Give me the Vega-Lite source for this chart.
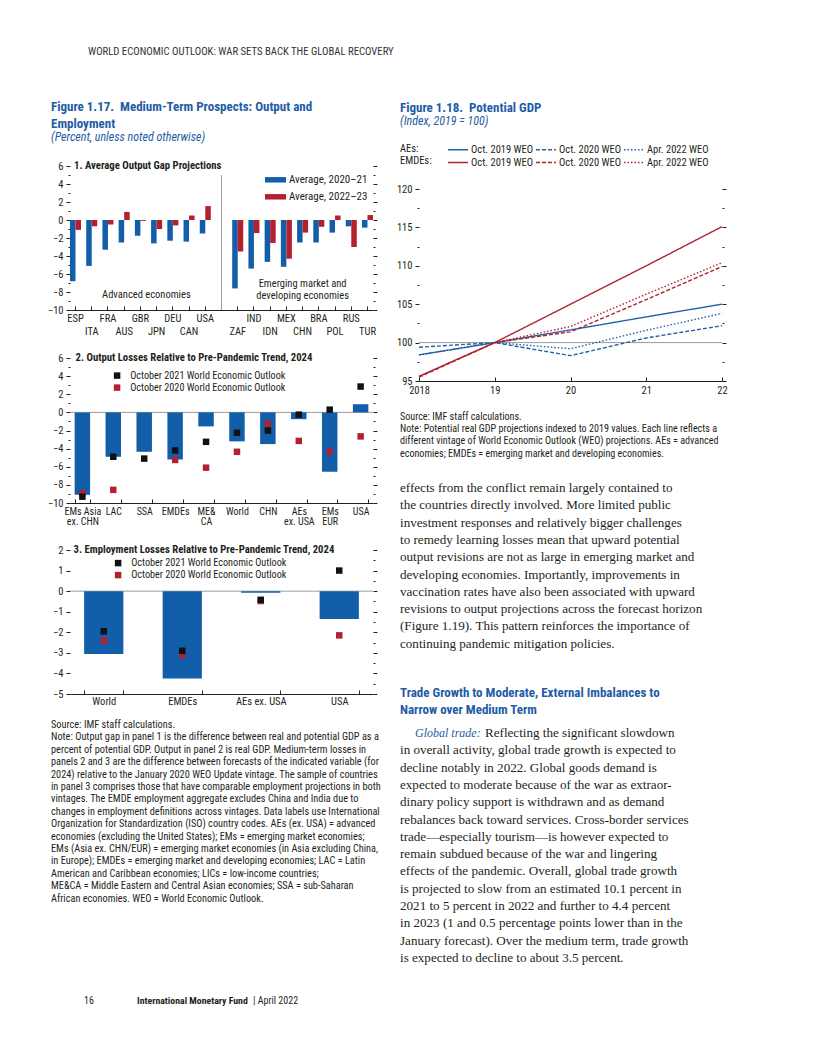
{
"$schema":"https://vega.github.io/schema/vega-lite/v6.json",
"padding":0,
"background":"white",
"config":{"view":{"stroke":null},"axis":{"labelFont":"'Liberation Sans Narrow', 'Roboto Condensed', 'DejaVu Sans Condensed', 'Arial Narrow', sans-serif","labelFontSize":10.5,"labelColor":"#231f20","tickColor":"#231f20","domainColor":"#231f20","grid":false,"labelFlush":false},"legend":{"labelFont":"'Liberation Sans Narrow', 'Roboto Condensed', 'DejaVu Sans Condensed', 'Arial Narrow', sans-serif","labelFontSize":10.5,"labelColor":"#231f20"}},
"columns":6,"align":"each","bounds":"flush","spacing":0,
"resolve":{"scale":{"color":"independent","strokeDash":"independent"},"legend":{"color":"independent","strokeDash":"independent"}},
"concat":[
{"width":51,"height":52,"data":{"values":[]},"mark":"point","encoding":{}},
{"width":19,"height":1,"data":{"values":[]},"mark":"point","encoding":{}},
{"width":303,"height":1,"data":{"values":[]},"mark":"point","encoding":{}},
{"width":27,"height":1,"data":{"values":[]},"mark":"point","encoding":{}},
{"width":19,"height":1,"data":{"values":[]},"mark":"point","encoding":{}},
{"width":303,"height":1,"data":{"values":[]},"mark":"point","encoding":{}},

{"width":51,"height":55,"data":{"values":[]},"mark":"point","encoding":{}},
{"width":19,"height":1,"data":{"values":[]},"mark":"point","encoding":{}},
{"width":303,"height":1,"data":{"values":[{"i":0,"t":"WORLD ECONOMIC OUTLOOK: WAR SETS BACK THE GLOBAL RECOVERY"}]},"mark":{"type":"text","align":"left","baseline":"middle","font":"'Liberation Sans Narrow', 'Roboto Condensed', 'DejaVu Sans Condensed', 'Arial Narrow', sans-serif","fontSize":10.7,"color":"#333333","dx":18},"encoding":{"x":{"datum":0,"type":"quantitative","scale":{"domain":[0,1]},"axis":null},"y":{"field":"i","type":"quantitative","scale":{"domain":[0,0.1],"reverse":true,"nice":false,"zero":false},"axis":null},"text":{"field":"t"}}},
{"width":27,"height":1,"data":{"values":[]},"mark":"point","encoding":{}},
{"width":19,"height":1,"data":{"values":[]},"mark":"point","encoding":{}},
{"width":303,"height":1,"data":{"values":[]},"mark":"point","encoding":{}},

{"width":51,"height":14,"data":{"values":[]},"mark":"point","encoding":{}},
{"width":19,"height":1,"data":{"values":[{"i":0,"t":"Figure 1.17.\u00a0 Medium-Term Prospects: Output and"},{"i":1,"t":"Employment"}]},"mark":{"type":"text","align":"left","baseline":"middle","font":"'Liberation Sans Narrow', 'Roboto Condensed', 'DejaVu Sans Condensed', 'Arial Narrow', sans-serif","fontSize":13,"fontWeight":"bold","color":"#1f5ca5"},"encoding":{"x":{"datum":0,"type":"quantitative","scale":{"domain":[0,1]},"axis":null},"y":{"field":"i","type":"quantitative","scale":{"domain":[0,0.060241],"reverse":true,"nice":false,"zero":false},"axis":null},"text":{"field":"t"}}},
{"width":303,"height":1,"data":{"values":[]},"mark":"point","encoding":{}},
{"width":27,"height":1,"data":{"values":[]},"mark":"point","encoding":{}},
{"width":19,"height":1,"data":{"values":[{"i":0,"t":"Figure 1.18.\u00a0 Potential GDP"}]},"mark":{"type":"text","align":"left","baseline":"middle","font":"'Liberation Sans Narrow', 'Roboto Condensed', 'DejaVu Sans Condensed', 'Arial Narrow', sans-serif","fontSize":13,"fontWeight":"bold","color":"#1f5ca5"},"encoding":{"x":{"datum":0,"type":"quantitative","scale":{"domain":[0,1]},"axis":null},"y":{"field":"i","type":"quantitative","scale":{"domain":[-0.07,0.03],"reverse":true,"nice":false,"zero":false},"axis":null},"text":{"field":"t"}}},
{"width":303,"height":1,"data":{"values":[]},"mark":"point","encoding":{}},

{"width":51,"height":16,"data":{"values":[]},"mark":"point","encoding":{}},
{"width":19,"height":1,"data":{"values":[]},"mark":"point","encoding":{}},
{"width":303,"height":1,"data":{"values":[]},"mark":"point","encoding":{}},
{"width":27,"height":1,"data":{"values":[]},"mark":"point","encoding":{}},
{"width":19,"height":1,"data":{"values":[{"i":0,"t":"(Index, 2019 = 100)"}]},"mark":{"type":"text","align":"left","baseline":"middle","font":"'Liberation Sans Narrow', 'Roboto Condensed', 'DejaVu Sans Condensed', 'Arial Narrow', sans-serif","fontSize":12,"fontStyle":"italic","color":"#1f5ca5"},"encoding":{"x":{"datum":0,"type":"quantitative","scale":{"domain":[0,1]},"axis":null},"y":{"field":"i","type":"quantitative","scale":{"domain":[0,0.1],"reverse":true,"nice":false,"zero":false},"axis":null},"text":{"field":"t"}}},
{"width":303,"height":1,"data":{"values":[]},"mark":"point","encoding":{}},

{"width":51,"height":12,"data":{"values":[]},"mark":"point","encoding":{}},
{"width":19,"height":1,"data":{"values":[{"i":0,"t":"(Percent, unless noted otherwise)"}]},"mark":{"type":"text","align":"left","baseline":"middle","font":"'Liberation Sans Narrow', 'Roboto Condensed', 'DejaVu Sans Condensed', 'Arial Narrow', sans-serif","fontSize":12,"fontStyle":"italic","color":"#1f5ca5"},"encoding":{"x":{"datum":0,"type":"quantitative","scale":{"domain":[0,1]},"axis":null},"y":{"field":"i","type":"quantitative","scale":{"domain":[0,0.1],"reverse":true,"nice":false,"zero":false},"axis":null},"text":{"field":"t"}}},
{"width":303,"height":1,"data":{"values":[]},"mark":"point","encoding":{}},
{"width":27,"height":1,"data":{"values":[]},"mark":"point","encoding":{}},
{"width":19,"height":1,"data":{"values":[]},"mark":"point","encoding":{}},
{"width":303,"height":1,"data":{"values":[]},"mark":"point","encoding":{}},

{"width":51,"height":17,"data":{"values":[]},"mark":"point","encoding":{}},
{"width":19,"height":1,"data":{"values":[]},"mark":"point","encoding":{}},
{"width":303,"height":1,"data":{"values":[]},"mark":"point","encoding":{}},
{"width":27,"height":1,"data":{"values":[]},"mark":"point","encoding":{}},
{"width":19,"height":1,"data":{"values":[{"i":0,"t":"AEs:"},{"i":1,"t":"EMDEs:"}]},"mark":{"type":"text","align":"left","baseline":"middle","font":"'Liberation Sans Narrow', 'Roboto Condensed', 'DejaVu Sans Condensed', 'Arial Narrow', sans-serif","fontSize":10.5,"color":"#231f20"},"encoding":{"x":{"datum":0,"type":"quantitative","scale":{"domain":[0,1]},"axis":null},"y":{"field":"i","type":"quantitative","scale":{"domain":[0,0.083333],"reverse":true,"nice":false,"zero":false},"axis":null},"text":{"field":"t"}}},
{"width":303,"height":1,"data":{"values":[]},"mark":"point","encoding":{}},

{"width":51,"height":192,"data":{"values":[]},"mark":"point","encoding":{}},
{"width":19,"height":1,"data":{"values":[{"i":0,"t":"1. Average Output Gap Projections"}]},"mark":{"type":"text","align":"left","baseline":"middle","font":"'Liberation Sans Narrow', 'Roboto Condensed', 'DejaVu Sans Condensed', 'Arial Narrow', sans-serif","fontSize":10.7,"fontWeight":"bold","color":"#231f20","dx":23},"encoding":{"x":{"datum":0,"type":"quantitative","scale":{"domain":[0,1]},"axis":null},"y":{"field":"i","type":"quantitative","scale":{"domain":[0,0.1],"reverse":true,"nice":false,"zero":false},"axis":null},"text":{"field":"t"}}},
{"width":303,"height":144,
 "layer":[
  {"data":{"values":[
   {"c":"ESP","s":"Average, 2020–21","v":-6.8},{"c":"ESP","s":"Average, 2022–23","v":-1.1},
   {"c":"ITA","s":"Average, 2020–21","v":-5.1},{"c":"ITA","s":"Average, 2022–23","v":-0.7},
   {"c":"FRA","s":"Average, 2020–21","v":-3.3},{"c":"FRA","s":"Average, 2022–23","v":-0.5},
   {"c":"AUS","s":"Average, 2020–21","v":-2.5},{"c":"AUS","s":"Average, 2022–23","v":0.9},
   {"c":"GBR","s":"Average, 2020–21","v":-1.75},{"c":"GBR","s":"Average, 2022–23","v":-0.1},
   {"c":"JPN","s":"Average, 2020–21","v":-2.6},{"c":"JPN","s":"Average, 2022–23","v":-1.0},
   {"c":"DEU","s":"Average, 2020–21","v":-2.3},{"c":"DEU","s":"Average, 2022–23","v":-0.6},
   {"c":"CAN","s":"Average, 2020–21","v":-2.4},{"c":"CAN","s":"Average, 2022–23","v":0.5},
   {"c":"USA","s":"Average, 2020–21","v":-1.5},{"c":"USA","s":"Average, 2022–23","v":1.55},
   {"c":"ZAF","s":"Average, 2020–21","v":-7.6},{"c":"ZAF","s":"Average, 2022–23","v":-3.5},
   {"c":"IND","s":"Average, 2020–21","v":-5.4},{"c":"IND","s":"Average, 2022–23","v":-1.45},
   {"c":"IDN","s":"Average, 2020–21","v":-4.65},{"c":"IDN","s":"Average, 2022–23","v":-2.55},
   {"c":"MEX","s":"Average, 2020–21","v":-5.2},{"c":"MEX","s":"Average, 2022–23","v":-4.3},
   {"c":"CHN","s":"Average, 2020–21","v":-2.5},{"c":"CHN","s":"Average, 2022–23","v":-1.4},
   {"c":"BRA","s":"Average, 2020–21","v":-2.5},{"c":"BRA","s":"Average, 2022–23","v":-0.75},
   {"c":"POL","s":"Average, 2020–21","v":-1.4},{"c":"POL","s":"Average, 2022–23","v":0.5},
   {"c":"RUS","s":"Average, 2020–21","v":-0.7},{"c":"RUS","s":"Average, 2022–23","v":-3.0},
   {"c":"TUR","s":"Average, 2020–21","v":-0.85},{"c":"TUR","s":"Average, 2022–23","v":0.55}
  ]},
  "mark":{"type":"bar"},
  "encoding":{
   "x":{"field":"c","type":"nominal","sort":null,"scale":{"domain":["ESP","ITA","FRA","AUS","GBR","JPN","DEU","CAN","USA"," ","ZAF","IND","IDN","MEX","CHN","BRA","POL","RUS","TUR"],"paddingInner":0.32,"paddingOuter":0},"axis":{"orient":"bottom","domain":true,"ticks":true,"tickSize":-4,"labelPadding":{"condition":{"test":"indexof(['ITA','AUS','JPN','CAN','ZAF','IDN','CHN','POL','TUR'], datum.value) >= 0","value":20},"value":7},"labelAngle":0,"labelBaseline":"top","labelAlign":"center","labelOverlap":false,"title":null}},
   "xOffset":{"field":"s","type":"nominal","sort":null,"scale":{"domain":["Average, 2020–21","Average, 2022–23"]}},
   "y":{"field":"v","type":"quantitative","scale":{"domain":[-10,6],"nice":false},"axis":{"orient":"left","values":[-10,-9,-8,-7,-6,-5,-4,-3,-2,-1,0,1,2,3,4,5,6],"labelExpr":"datum.value % 2 === 0 ? datum.label : ''","tickSize":{"condition":{"test":"datum.value % 2 !== 0","value":2},"value":4},"domain":false,"labelPadding":3,"title":null}},
   "color":{"field":"s","type":"nominal","scale":{"domain":["Average, 2020–21","Average, 2022–23"],"range":["#135ea9","#b5202e"]},"legend":{"orient":"none","legendX":194,"legendY":2.3,"title":null,"symbolType":"M-1,-0.26H1V0.26H-1Z","symbolSize":441,"labelFontSize":11,"labelOffset":2,"rowPadding":-2,"padding":0}}
  }},
  {"data":{"values":[{}]},"mark":{"type":"rule","color":"#9a9a9a","strokeWidth":1},"encoding":{"x":{"datum":" ","type":"nominal"},"y":{"datum":-10,"type":"quantitative","axis":{"orient":"right","values":[-10,-9,-8,-7,-6,-5,-4,-3,-2,-1,0,1,2,3,4,5,6],"labels":false,"domain":false,"tickSize":{"condition":{"test":"datum.value % 2 !== 0","value":2},"value":4},"title":null}},"y2":{"datum":5}}},
  {"data":{"values":[{"t":"Advanced economies"}]},"mark":{"type":"text","font":"'Liberation Sans Narrow', 'Roboto Condensed', 'DejaVu Sans Condensed', 'Arial Narrow', sans-serif","fontSize":10.5,"color":"#231f20","align":"center","baseline":"middle","dx":6},"encoding":{"x":{"datum":"GBR","type":"nominal"},"y":{"datum":-8.35,"type":"quantitative","axis":null},"text":{"field":"t"}}},
  {"data":{"values":[{"t":["Emerging market and","developing economies"]}]},"mark":{"type":"text","font":"'Liberation Sans Narrow', 'Roboto Condensed', 'DejaVu Sans Condensed', 'Arial Narrow', sans-serif","fontSize":10.5,"color":"#231f20","align":"center","baseline":"middle","lineHeight":12},"encoding":{"x":{"datum":"CHN","type":"nominal"},"y":{"datum":-7.1,"type":"quantitative","axis":null},"text":{"field":"t"}}}
 ],
 "resolve":{"axis":{"y":"independent"}}
},
{"width":27,"height":1,"data":{"values":[]},"mark":"point","encoding":{}},
{"width":19,"height":1,"data":{"values":[]},"mark":"point","encoding":{}},
{"width":303,"height":192,
 "layer":[
  {"data":{"values":[{}]},"mark":{"type":"rule","color":"#9a9a9a","strokeWidth":1},"encoding":{"y":{"datum":100,"type":"quantitative","scale":{"domain":[95,120],"range":[215,23],"nice":false,"zero":false},"axis":{"orient":"right","values":[95,97.5,100,102.5,105,107.5,110,112.5,115,117.5,120],"labels":false,"domain":false,"tickSize":{"condition":{"test":"datum.value % 5 !== 0","value":2},"value":4},"title":null}}}},
  {"data":{"values":[
   {"yr":2018,"s":"AEs|Oct. 2019 WEO","v":98.4},{"yr":2019,"s":"AEs|Oct. 2019 WEO","v":100},{"yr":2020,"s":"AEs|Oct. 2019 WEO","v":101.65},{"yr":2021,"s":"AEs|Oct. 2019 WEO","v":103.35},{"yr":2022,"s":"AEs|Oct. 2019 WEO","v":105.0},
   {"yr":2018,"s":"AEs|Oct. 2020 WEO","v":99.4},{"yr":2019,"s":"AEs|Oct. 2020 WEO","v":100},{"yr":2020,"s":"AEs|Oct. 2020 WEO","v":98.3},{"yr":2021,"s":"AEs|Oct. 2020 WEO","v":100.6},{"yr":2022,"s":"AEs|Oct. 2020 WEO","v":102.2},
   {"yr":2018,"s":"AEs|Apr. 2022 WEO","v":98.4},{"yr":2019,"s":"AEs|Apr. 2022 WEO","v":100},{"yr":2020,"s":"AEs|Apr. 2022 WEO","v":99.2},{"yr":2021,"s":"AEs|Apr. 2022 WEO","v":101.6},{"yr":2022,"s":"AEs|Apr. 2022 WEO","v":103.8},
   {"yr":2018,"s":"EMDEs|Oct. 2019 WEO","v":95.6},{"yr":2019,"s":"EMDEs|Oct. 2019 WEO","v":100},{"yr":2020,"s":"EMDEs|Oct. 2019 WEO","v":105.0},{"yr":2021,"s":"EMDEs|Oct. 2019 WEO","v":110.0},{"yr":2022,"s":"EMDEs|Oct. 2019 WEO","v":115.1},
   {"yr":2018,"s":"EMDEs|Oct. 2020 WEO","v":95.5},{"yr":2019,"s":"EMDEs|Oct. 2020 WEO","v":100},{"yr":2020,"s":"EMDEs|Oct. 2020 WEO","v":101.4},{"yr":2021,"s":"EMDEs|Oct. 2020 WEO","v":105.6},{"yr":2022,"s":"EMDEs|Oct. 2020 WEO","v":109.9},
   {"yr":2018,"s":"EMDEs|Apr. 2022 WEO","v":95.6},{"yr":2019,"s":"EMDEs|Apr. 2022 WEO","v":100},{"yr":2020,"s":"EMDEs|Apr. 2022 WEO","v":102.1},{"yr":2021,"s":"EMDEs|Apr. 2022 WEO","v":106.3},{"yr":2022,"s":"EMDEs|Apr. 2022 WEO","v":110.4}
  ]},
  "mark":{"type":"line","strokeWidth":1.4},
  "encoding":{
   "x":{"field":"yr","type":"quantitative","scale":{"domain":[2018,2022],"nice":false,"zero":false},"axis":{"orient":"bottom","offset":23,"values":[2018,2019,2020,2021,2022],"labelExpr":"datum.value === 2018 ? '2018' : substring(toString(datum.value), 2)","tickSize":-4,"labelPadding":8,"domain":true,"labelBaseline":"top","title":null}},
   "y":{"field":"v","type":"quantitative","scale":{"domain":[95,120],"range":[215,23],"nice":false,"zero":false},"axis":{"orient":"left","values":[95,97.5,100,102.5,105,107.5,110,112.5,115,117.5,120],"format":"d","labelExpr":"datum.value % 5 === 0 ? datum.label : ''","tickSize":{"condition":{"test":"datum.value % 5 !== 0","value":2},"value":4},"domain":false,"labelPadding":3,"title":null}},
   "color":{"field":"s","type":"nominal","scale":{"domain":["AEs|Oct. 2019 WEO","EMDEs|Oct. 2019 WEO","AEs|Oct. 2020 WEO","EMDEs|Oct. 2020 WEO","AEs|Apr. 2022 WEO","EMDEs|Apr. 2022 WEO"],"range":["#2462a6","#ae2530","#2462a6","#ae2530","#2462a6","#ae2530"]},"legend":{"orient":"none","legendX":33,"legendY":-22.5,"columns":3,"title":null,"symbolType":"M-2,0H2","symbolSize":100,"symbolStrokeWidth":1.4,"labelExpr":"split(datum.label, '|')[1]","labelOffset":7,"columnPadding":-1,"rowPadding":1,"padding":0}},
   "strokeDash":{"field":"s","type":"nominal","scale":{"domain":["AEs|Oct. 2019 WEO","EMDEs|Oct. 2019 WEO","AEs|Oct. 2020 WEO","EMDEs|Oct. 2020 WEO","AEs|Apr. 2022 WEO","EMDEs|Apr. 2022 WEO"],"range":[[1,0],[1,0],[4,2],[4,2],[1.5,2],[1.5,2]]},"legend":{"orient":"none","legendX":33,"legendY":-22.5,"columns":3,"title":null,"symbolType":"M-2,0H2","symbolSize":100,"symbolStrokeWidth":1.4,"labelExpr":"split(datum.label, '|')[1]","labelOffset":7,"columnPadding":-1,"rowPadding":1,"padding":0}}
  }}
 ],
 "resolve":{"axis":{"y":"independent"}}
},

{"width":51,"height":192,"data":{"values":[]},"mark":"point","encoding":{}},
{"width":19,"height":1,"data":{"values":[{"i":0,"t":"2. Output Losses Relative to Pre-Pandemic Trend, 2024"}]},"mark":{"type":"text","align":"left","baseline":"middle","font":"'Liberation Sans Narrow', 'Roboto Condensed', 'DejaVu Sans Condensed', 'Arial Narrow', sans-serif","fontSize":10.7,"fontWeight":"bold","color":"#231f20","dx":24.5},"encoding":{"x":{"datum":0,"type":"quantitative","scale":{"domain":[0,1]},"axis":null},"y":{"field":"i","type":"quantitative","scale":{"domain":[0,0.1],"reverse":true,"nice":false,"zero":false},"axis":null},"text":{"field":"t"}}},
{"width":303,"height":145,
 "layer":[
  {"data":{"values":[{}]},"mark":{"type":"rule","color":"#9a9a9a","strokeWidth":1},"encoding":{"y":{"datum":0,"type":"quantitative","scale":{"domain":[-10,6],"nice":false},"axis":{"orient":"right","values":[-10,-9,-8,-7,-6,-5,-4,-3,-2,-1,0,1,2,3,4,5,6],"labels":false,"domain":false,"tickSize":{"condition":{"test":"datum.value % 2 !== 0","value":2},"value":4},"title":null}}}},
  {"data":{"values":[
   {"c":"EMs Asia\nex. CHN","v":-9.1},{"c":"LAC","v":-4.9},{"c":"SSA","v":-4.35},{"c":"EMDEs","v":-5.2},{"c":"ME&\nCA","v":-1.55},{"c":"World","v":-3.2},{"c":"CHN","v":-3.5},{"c":"AEs\nex. USA","v":-0.75},{"c":"EMs\nEUR","v":-6.55},{"c":"USA","v":0.9}
  ]},
  "mark":{"type":"bar","color":"#135ea9"},
  "encoding":{
   "x":{"field":"c","type":"nominal","sort":null,"scale":{"domain":["EMs Asia\nex. CHN","LAC","SSA","EMDEs","ME&\nCA","World","CHN","AEs\nex. USA","EMs\nEUR","USA"],"paddingInner":0.5,"paddingOuter":0.15},"axis":{"orient":"bottom","domain":true,"tickSize":-4,"tickBand":"extent","labelPadding":7,"labelAngle":0,"labelBaseline":"top","labelAlign":"center","labelFontSize":10,"labelExpr":"split(datum.label, '\\n')","labelLineHeight":10.5,"labelOverlap":false,"title":null}},
   "y":{"field":"v","type":"quantitative","axis":{"orient":"left","values":[-10,-9,-8,-7,-6,-5,-4,-3,-2,-1,0,1,2,3,4,5,6],"labelExpr":"datum.value % 2 === 0 ? datum.label : ''","tickSize":{"condition":{"test":"datum.value % 2 !== 0","value":2},"value":4},"domain":false,"labelPadding":3,"title":null}}
  }},
  {"data":{"values":[
   {"c":"EMs Asia\nex. CHN","s":"October 2020 World Economic Outlook","v":-8.9},{"c":"LAC","s":"October 2020 World Economic Outlook","v":-8.55},{"c":"EMDEs","s":"October 2020 World Economic Outlook","v":-5.25},{"c":"ME&\nCA","s":"October 2020 World Economic Outlook","v":-6.1},{"c":"World","s":"October 2020 World Economic Outlook","v":-4.35},{"c":"CHN","s":"October 2020 World Economic Outlook","v":-1.25},{"c":"AEs\nex. USA","s":"October 2020 World Economic Outlook","v":-3.15},{"c":"EMs\nEUR","s":"October 2020 World Economic Outlook","v":-4.35},{"c":"USA","s":"October 2020 World Economic Outlook","v":-2.65},
   {"c":"EMs Asia\nex. CHN","s":"October 2021 World Economic Outlook","v":-9.3},{"c":"LAC","s":"October 2021 World Economic Outlook","v":-4.9},{"c":"SSA","s":"October 2021 World Economic Outlook","v":-5.1},{"c":"EMDEs","s":"October 2021 World Economic Outlook","v":-4.2},{"c":"ME&\nCA","s":"October 2021 World Economic Outlook","v":-3.25},{"c":"World","s":"October 2021 World Economic Outlook","v":-2.25},{"c":"CHN","s":"October 2021 World Economic Outlook","v":-2.0},{"c":"AEs\nex. USA","s":"October 2021 World Economic Outlook","v":-0.25},{"c":"EMs\nEUR","s":"October 2021 World Economic Outlook","v":0.3},{"c":"USA","s":"October 2021 World Economic Outlook","v":2.85}
  ]},
  "mark":{"type":"point","shape":"square","filled":true,"size":42,"opacity":1},
  "encoding":{
   "x":{"field":"c","type":"nominal","sort":null,"scale":{"domain":["EMs Asia\nex. CHN","LAC","SSA","EMDEs","ME&\nCA","World","CHN","AEs\nex. USA","EMs\nEUR","USA"],"paddingInner":0.5,"paddingOuter":0.15}},
   "y":{"field":"v","type":"quantitative","axis":null},
   "color":{"field":"s","type":"nominal","scale":{"domain":["October 2021 World Economic Outlook","October 2020 World Economic Outlook"],"range":["#111111","#b5202e"]},"legend":{"orient":"none","legendX":42,"legendY":12.5,"title":null,"symbolType":"square","symbolSize":42,"labelFontSize":10.2,"labelOffset":8,"rowPadding":1,"padding":0}}
  }}
 ],
 "resolve":{"axis":{"y":"independent"}}
},
{"width":27,"height":1,"data":{"values":[{"i":0,"t":"effects from the conflict remain largely contained to"},{"i":1,"t":"the countries directly involved. More limited public"},{"i":2,"t":"investment responses and relatively bigger challenges"},{"i":3,"t":"to remedy learning losses mean that upward potential"},{"i":4,"t":"output revisions are not as large in emerging market and"},{"i":5,"t":"developing economies. Importantly, improvements in"},{"i":6,"t":"vaccination rates have also been associated with upward"},{"i":7,"t":"revisions to output projections across the forecast horizon"},{"i":8,"t":"(Figure 1.19). This pattern reinforces the importance of"},{"i":9,"t":"continuing pandemic mitigation policies."}]},"mark":{"type":"text","align":"left","baseline":"middle","font":"'Liberation Serif', 'DejaVu Serif', serif","fontSize":13.1,"color":"#231f20","dx":27},"encoding":{"x":{"datum":0,"type":"quantitative","scale":{"domain":[0,1]},"axis":null},"y":{"field":"i","type":"quantitative","scale":{"domain":[-7.514451,-7.456648],"reverse":true,"nice":false,"zero":false},"axis":null},"text":{"field":"t"}}},
{"width":19,"height":1,"data":{"values":[{"i":0,"t":"Source: IMF staff calculations."},{"i":1,"t":"Note: Potential real GDP projections indexed to 2019 values. Each line reflects a"},{"i":2,"t":"different vintage of World Economic Outlook (WEO) projections. AEs = advanced"},{"i":3,"t":"economies; EMDEs = emerging market and developing economies."}]},"mark":{"type":"text","align":"left","baseline":"middle","font":"'Liberation Sans Narrow', 'Roboto Condensed', 'DejaVu Sans Condensed', 'Arial Narrow', sans-serif","fontSize":10.1,"color":"#231f20"},"encoding":{"x":{"datum":0,"type":"quantitative","scale":{"domain":[0,1]},"axis":null},"y":{"field":"i","type":"quantitative","scale":{"domain":[-4.772358,-4.691057],"reverse":true,"nice":false,"zero":false},"axis":null},"text":{"field":"t"}}},
{"width":303,"height":1,"data":{"values":[]},"mark":"point","encoding":{}},

{"width":51,"height":175,"data":{"values":[]},"mark":"point","encoding":{}},
{"width":19,"height":1,"data":{"values":[{"i":0,"t":"3. Employment Losses Relative to Pre-Pandemic Trend, 2024"}]},"mark":{"type":"text","align":"left","baseline":"middle","font":"'Liberation Sans Narrow', 'Roboto Condensed', 'DejaVu Sans Condensed', 'Arial Narrow', sans-serif","fontSize":10.7,"fontWeight":"bold","color":"#231f20","dx":22.5},"encoding":{"x":{"datum":0,"type":"quantitative","scale":{"domain":[0,1]},"axis":null},"y":{"field":"i","type":"quantitative","scale":{"domain":[0,0.1],"reverse":true,"nice":false,"zero":false},"axis":null},"text":{"field":"t"}}},
{"width":303,"height":144,
 "layer":[
  {"data":{"values":[{}]},"mark":{"type":"rule","color":"#9a9a9a","strokeWidth":1},"encoding":{"y":{"datum":0,"type":"quantitative","scale":{"domain":[-5,2],"nice":false},"axis":{"orient":"right","values":[-5,-4.5,-4,-3.5,-3,-2.5,-2,-1.5,-1,-0.5,0,0.5,1,1.5,2],"labels":false,"domain":false,"tickSize":{"condition":{"test":"datum.value % 1 !== 0","value":2},"value":4},"title":null}}}},
  {"data":{"values":[{"c":"World","v":-3.05},{"c":"EMDEs","v":-4.25},{"c":"AEs ex. USA","v":-0.08},{"c":"USA","v":-1.35}]},
  "mark":{"type":"bar","color":"#135ea9"},
  "encoding":{
   "x":{"field":"c","type":"nominal","sort":null,"scale":{"domain":["World","EMDEs","AEs ex. USA","USA"],"paddingInner":0.5,"paddingOuter":0.18},"axis":{"orient":"bottom","domain":true,"tickSize":-4,"tickBand":"extent","labelPadding":6,"labelAngle":0,"labelBaseline":"top","labelAlign":"center","labelOverlap":false,"title":null}},
   "y":{"field":"v","type":"quantitative","axis":{"orient":"left","values":[-5,-4.5,-4,-3.5,-3,-2.5,-2,-1.5,-1,-0.5,0,0.5,1,1.5,2],"format":"d","labelExpr":"datum.value % 1 === 0 ? datum.label : ''","tickSize":{"condition":{"test":"datum.value % 1 !== 0","value":2},"value":4},"domain":false,"labelPadding":3,"title":null}}
  }},
  {"data":{"values":[
   {"c":"World","s":"October 2020 World Economic Outlook","v":-2.4},{"c":"EMDEs","s":"October 2020 World Economic Outlook","v":-3.1},{"c":"AEs ex. USA","s":"October 2020 World Economic Outlook","v":-0.48},{"c":"USA","s":"October 2020 World Economic Outlook","v":-2.15},
   {"c":"World","s":"October 2021 World Economic Outlook","v":-1.95},{"c":"EMDEs","s":"October 2021 World Economic Outlook","v":-2.9},{"c":"AEs ex. USA","s":"October 2021 World Economic Outlook","v":-0.42},{"c":"USA","s":"October 2021 World Economic Outlook","v":1.0}
  ]},
  "mark":{"type":"point","shape":"square","filled":true,"size":42,"opacity":1},
  "encoding":{
   "x":{"field":"c","type":"nominal","sort":null,"scale":{"domain":["World","EMDEs","AEs ex. USA","USA"],"paddingInner":0.5,"paddingOuter":0.18}},
   "y":{"field":"v","type":"quantitative","axis":null},
   "color":{"field":"s","type":"nominal","scale":{"domain":["October 2021 World Economic Outlook","October 2020 World Economic Outlook"],"range":["#111111","#b5202e"]},"legend":{"orient":"none","legendX":43,"legendY":8,"title":null,"symbolType":"square","symbolSize":42,"labelFontSize":10.2,"labelOffset":8,"rowPadding":1,"padding":0}}
  }}
 ],
 "resolve":{"axis":{"y":"independent"}}
},
{"width":27,"height":1,"data":{"values":[]},"mark":"point","encoding":{}},
{"width":19,"height":1,"data":{"values":[{"i":0,"t":"Trade Growth to Moderate, External Imbalances to"},{"i":1,"t":"Narrow over Medium Term"}]},"mark":{"type":"text","align":"left","baseline":"middle","font":"'Liberation Sans Narrow', 'Roboto Condensed', 'DejaVu Sans Condensed', 'Arial Narrow', sans-serif","fontSize":13,"fontWeight":"bold","color":"#1f5ca5"},"encoding":{"x":{"datum":0,"type":"quantitative","scale":{"domain":[0,1]},"axis":null},"y":{"field":"i","type":"quantitative","scale":{"domain":[-8.248555,-8.190752],"reverse":true,"nice":false,"zero":false},"axis":null},"text":{"field":"t"}}},
{"width":303,"height":1,"data":{"values":[]},"mark":"point","encoding":{}},

{"width":51,"height":8,"data":{"values":[]},"mark":"point","encoding":{}},
{"width":19,"height":1,"data":{"values":[{"i":0,"t":"Source: IMF staff calculations."},{"i":1,"t":"Note: Output gap in panel 1 is the difference between real and potential GDP as a"},{"i":2,"t":"percent of potential GDP. Output in panel 2 is real GDP. Medium-term losses in"},{"i":3,"t":"panels 2 and 3 are the difference between forecasts of the indicated variable (for"},{"i":4,"t":"2024) relative to the January 2020 WEO Update vintage. The sample of countries"},{"i":5,"t":"in panel 3 comprises those that have comparable employment projections in both"},{"i":6,"t":"vintages. The EMDE employment aggregate excludes China and India due to"},{"i":7,"t":"changes in employment definitions across vintages. Data labels use International"},{"i":8,"t":"Organization for Standardization (ISO) country codes. AEs (ex. USA) = advanced"},{"i":9,"t":"economies (excluding the United States); EMs = emerging market economies;"},{"i":10,"t":"EMs (Asia ex. CHN/EUR) = emerging market economies (in Asia excluding China,"},{"i":11,"t":"in Europe); EMDEs = emerging market and developing economies; LAC = Latin"},{"i":12,"t":"American and Caribbean economies; LICs = low-income countries;"},{"i":13,"t":"ME&CA = Middle Eastern and Central Asian economies; SSA = sub-Saharan"},{"i":14,"t":"African economies. WEO = World Economic Outlook."}]},"mark":{"type":"text","align":"left","baseline":"middle","font":"'Liberation Sans Narrow', 'Roboto Condensed', 'DejaVu Sans Condensed', 'Arial Narrow', sans-serif","fontSize":10.3,"color":"#231f20"},"encoding":{"x":{"datum":0,"type":"quantitative","scale":{"domain":[0,1]},"axis":null},"y":{"field":"i","type":"quantitative","scale":{"domain":[0,0.080645],"reverse":true,"nice":false,"zero":false},"axis":null},"text":{"field":"t"}}},
{"width":303,"height":1,"data":{"values":[]},"mark":"point","encoding":{}},
{"width":27,"height":1,"data":{"values":[]},"mark":"point","encoding":{}},
{"width":19,"height":1,"data":{"values":[]},"mark":"point","encoding":{}},
{"width":303,"height":1,"data":{"values":[]},"mark":"point","encoding":{}},

{"width":51,"height":268,"data":{"values":[]},"mark":"point","encoding":{}},
{"width":19,"height":1,"data":{"values":[]},"mark":"point","encoding":{}},
{"width":303,"height":1,"data":{"values":[]},"mark":"point","encoding":{}},
{"width":27,"height":1,"data":{"values":[]},"mark":"point","encoding":{}},
{"width":19,"height":1,
 "data":{"values":[{"i":0,"t":"Reflecting the significant slowdown","lead":"Global trade:"},{"i":1,"t":"in overall activity, global trade growth is expected to"},{"i":2,"t":"decline notably in 2022. Global goods demand is"},{"i":3,"t":"expected to moderate because of the war as extraor-"},{"i":4,"t":"dinary policy support is withdrawn and as demand"},{"i":5,"t":"rebalances back toward services. Cross-border services"},{"i":6,"t":"trade—especially tourism—is however expected to"},{"i":7,"t":"remain subdued because of the war and lingering"},{"i":8,"t":"effects of the pandemic. Overall, global trade growth"},{"i":9,"t":"is projected to slow from an estimated 10.1 percent in"},{"i":10,"t":"2021 to 5 percent in 2022 and further to 4.4 percent"},{"i":11,"t":"in 2023 (1 and 0.5 percentage points lower than in the"},{"i":12,"t":"January forecast). Over the medium term, trade growth"},{"i":13,"t":"is expected to decline to about 3.5 percent."}]},
 "layer":[
  {"transform":[{"filter":"datum.i > 0"}],"mark":{"type":"text","align":"left","baseline":"middle","font":"'Liberation Serif', 'DejaVu Serif', serif","fontSize":13.1,"color":"#231f20"},"encoding":{"x":{"datum":0,"type":"quantitative","scale":{"domain":[0,1]},"axis":null},"y":{"field":"i","type":"quantitative","scale":{"domain":[0,0.057803],"reverse":true,"nice":false,"zero":false},"axis":null},"text":{"field":"t"}}},
  {"transform":[{"filter":"datum.i == 0"}],"mark":{"type":"text","align":"left","baseline":"middle","font":"'Liberation Serif', 'DejaVu Serif', serif","fontSize":13.1,"color":"#231f20","dx":85},"encoding":{"x":{"datum":0,"type":"quantitative","scale":{"domain":[0,1]},"axis":null},"y":{"field":"i","type":"quantitative","scale":{"domain":[0,0.057803],"reverse":true,"nice":false,"zero":false},"axis":null},"text":{"field":"t"}}},
  {"transform":[{"filter":"datum.i == 0"}],"mark":{"type":"text","align":"left","baseline":"middle","font":"'Liberation Serif', 'DejaVu Serif', serif","fontSize":12,"fontStyle":"italic","color":"#1f5ca5","dx":15},"encoding":{"x":{"datum":0,"type":"quantitative","scale":{"domain":[0,1]},"axis":null},"y":{"field":"i","type":"quantitative","scale":{"domain":[0,0.057803],"reverse":true,"nice":false,"zero":false},"axis":null},"text":{"field":"lead"}}}
 ]
},
{"width":303,"height":1,"data":{"values":[]},"mark":"point","encoding":{}},

{"width":51,"height":1,"data":{"values":[]},"mark":"point","encoding":{}},
{"width":19,"height":1,"data":{"values":[]},"mark":"point","encoding":{}},
{"width":303,"height":1,
 "data":{"values":[{"i":0,"n":"16","a":"International Monetary Fund","b":"| April 2022"}]},
 "layer":[
  {"mark":{"type":"text","align":"left","baseline":"middle","font":"'Liberation Sans Narrow', 'Roboto Condensed', 'DejaVu Sans Condensed', 'Arial Narrow', sans-serif","fontSize":10,"color":"#231f20","dx":14},"encoding":{"x":{"datum":0,"type":"quantitative","scale":{"domain":[0,1]},"axis":null},"y":{"field":"i","type":"quantitative","scale":{"domain":[0,0.1],"reverse":true,"nice":false,"zero":false},"axis":null},"text":{"field":"n"}}},
  {"mark":{"type":"text","align":"left","baseline":"middle","font":"'Liberation Sans Narrow', 'Roboto Condensed', 'DejaVu Sans Condensed', 'Arial Narrow', sans-serif","fontSize":9.8,"fontWeight":"bold","color":"#231f20","dx":67},"encoding":{"x":{"datum":0,"type":"quantitative","scale":{"domain":[0,1]},"axis":null},"y":{"field":"i","type":"quantitative","scale":{"domain":[0,0.1],"reverse":true,"nice":false,"zero":false},"axis":null},"text":{"field":"a"}}},
  {"mark":{"type":"text","align":"left","baseline":"middle","font":"'Liberation Sans Narrow', 'Roboto Condensed', 'DejaVu Sans Condensed', 'Arial Narrow', sans-serif","fontSize":10,"color":"#231f20","dx":183},"encoding":{"x":{"datum":0,"type":"quantitative","scale":{"domain":[0,1]},"axis":null},"y":{"field":"i","type":"quantitative","scale":{"domain":[0,0.1],"reverse":true,"nice":false,"zero":false},"axis":null},"text":{"field":"b"}}}
 ]
},
{"width":27,"height":1,"data":{"values":[]},"mark":"point","encoding":{}},
{"width":19,"height":1,"data":{"values":[]},"mark":"point","encoding":{}},
{"width":303,"height":1,"data":{"values":[]},"mark":"point","encoding":{}}
]
}
